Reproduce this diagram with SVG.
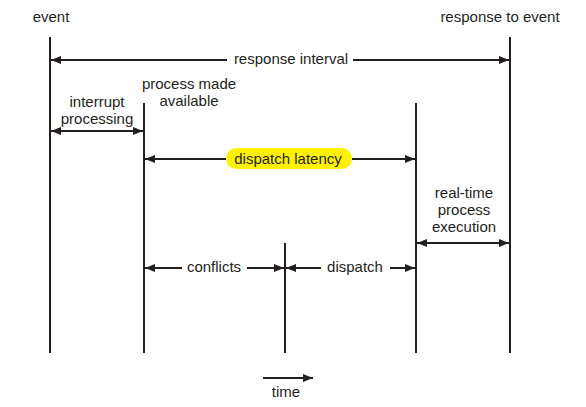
<svg xmlns="http://www.w3.org/2000/svg" width="586" height="407" viewBox="0 0 586 407">
<defs>
<marker id="ah" viewBox="0 0 10 8" refX="10" refY="4" markerWidth="10" markerHeight="8" markerUnits="userSpaceOnUse" orient="auto-start-reverse">
<path d="M0,0 L10,4 L0,8 z" fill="#231f20"/>
</marker>
<style>
text{font-family:"Liberation Sans",Arial,sans-serif;font-size:15px;fill:#231f20;text-anchor:middle}
.v{stroke:#231f20;stroke-width:2;fill:none}
.c{stroke:#231f20;stroke-width:2;fill:none}
</style>
</defs>
<rect width="586" height="407" fill="#fff"/>
<g id="event"><line class="v" x1="50" y1="37" x2="50" y2="353"/><text x="51" y="22">event</text></g>
<g id="response"><line class="v" x1="510" y1="37" x2="510" y2="353"/><text x="500" y="22">response to event</text></g>
<g id="process-available"><line class="v" x1="144" y1="103" x2="144" y2="353"/><text x="189" y="89">process made</text><text x="189" y="106">available</text></g>
<g id="conflicts-end"><line class="v" x1="285" y1="243" x2="285" y2="353"/></g>
<g id="dispatch-end"><line class="v" x1="416" y1="103" x2="416" y2="353"/></g>
<g id="labels">
<text x="291" y="64">response interval</text>
<text x="97" y="107">interrupt</text>
<text x="97" y="124">processing</text>
<rect x="226" y="148" width="126" height="21" rx="10.5" fill="#fff200"/>
<text x="288" y="164">dispatch latency</text>
<text x="464" y="198">real-time</text>
<text x="464" y="215">process</text>
<text x="464" y="232">execution</text>
<text x="214" y="272">conflicts</text>
<text x="355" y="272">dispatch</text>
<text x="286" y="397">time</text>
</g>
<g id="connectors">
<line class="c" x1="227" y1="60" x2="51" y2="60" marker-end="url(#ah)"/>
<line class="c" x1="353" y1="60" x2="509" y2="60" marker-end="url(#ah)"/>
<line class="c" x1="51" y1="131" x2="143" y2="131" marker-start="url(#ah)" marker-end="url(#ah)"/>
<line class="c" x1="226" y1="159" x2="145" y2="159" marker-end="url(#ah)"/>
<line class="c" x1="352" y1="159" x2="415" y2="159" marker-end="url(#ah)"/>
<line class="c" x1="417" y1="243" x2="509" y2="243" marker-start="url(#ah)" marker-end="url(#ah)"/>
<line class="c" x1="182" y1="268" x2="145" y2="268" marker-end="url(#ah)"/>
<line class="c" x1="247" y1="268" x2="284" y2="268" marker-end="url(#ah)"/>
<line class="c" x1="321" y1="268" x2="286" y2="268" marker-end="url(#ah)"/>
<line class="c" x1="390" y1="268" x2="415" y2="268" marker-end="url(#ah)"/>
<line class="c" x1="263" y1="378" x2="313" y2="378" marker-end="url(#ah)"/>
</g>
</svg>
